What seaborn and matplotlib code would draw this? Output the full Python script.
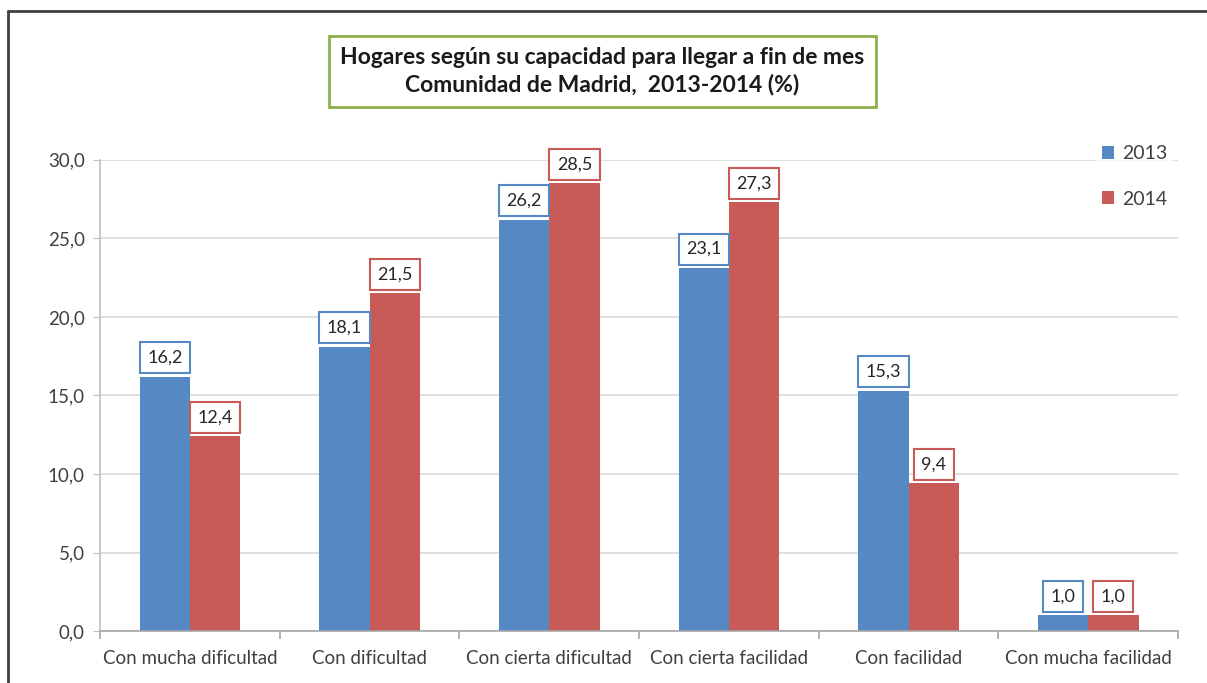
import matplotlib
matplotlib.use("Agg")
import matplotlib.pyplot as plt
from matplotlib.lines import Line2D
from matplotlib.ticker import FuncFormatter, FixedLocator
import seaborn as sns
import pandas as pd

# datos
categorias = ["Con mucha dificultad", "Con dificultad", "Con cierta dificultad",
              "Con cierta facilidad", "Con facilidad", "Con mucha facilidad"]
v2013 = [16.2, 18.1, 26.2, 23.1, 15.3, 1.0]
v2014 = [12.4, 21.5, 28.5, 27.3, 9.4, 1.0]
anios = ["2013", "2014"]
colores = ["#5689C4", "#C85A57"]

df = pd.DataFrame({
    "categoria": categorias * 2,
    "valor": v2013 + v2014,
    "anio": [anios[0]] * len(categorias) + [anios[1]] * len(categorias),
})

sns.set_style("white")
plt.rcParams['font.family'] = ['Lato', 'DejaVu Sans']

fig = plt.figure(figsize=(12.07, 6.83), dpi=100)
ax = fig.add_axes([0.083, 0.076, 0.893, 0.690])

sns.barplot(data=df, x="categoria", y="valor", hue="anio", palette=colores,
            width=0.56, saturation=1, linewidth=0, ax=ax,
            order=categorias, hue_order=anios)

ax.set_ylim(0, 30)
ax.set_xlim(-0.5, len(categorias) - 0.5)
ax.set_xlabel("")
ax.set_ylabel("")
ax.yaxis.set_major_formatter(FuncFormatter(lambda v, p: f"{v:.1f}".replace(".", ",")))
ax.set_yticks([0, 5, 10, 15, 20, 25, 30])
ax.yaxis.grid(True, color="#D9D9D9", linewidth=1.2)
ax.set_axisbelow(True)

for s in ["top", "right"]:
    ax.spines[s].set_visible(False)
ax.spines["left"].set_color("#BFBFBF")
ax.spines["bottom"].set_color("#A6A6A6")
ax.spines["left"].set_linewidth(1.2)
ax.spines["bottom"].set_linewidth(1.2)

ax.tick_params(axis="y", which="major", left=True, length=5, color="#BFBFBF",
               labelsize=13.5, labelcolor="#404040", pad=6)
ax.tick_params(axis="x", which="major", bottom=False, labelsize=13.5,
               labelcolor="#404040", pad=10)
ax.xaxis.set_minor_locator(FixedLocator([i - 0.5 for i in range(len(categorias) + 1)]))
ax.tick_params(axis="x", which="minor", bottom=True, length=6, color="#A6A6A6", width=1.2)

for cont, col in zip(ax.containers, colores):
    etiquetas = [f"{b.get_height():.1f}".replace(".", ",") for b in cont]
    ax.bar_label(cont, labels=etiquetas, padding=8, fontsize=13, color="#262626",
                 bbox=dict(boxstyle="square,pad=0.42", facecolor="white",
                           edgecolor=col, linewidth=1.5))

leg = ax.legend(loc="upper left", bbox_to_anchor=(0.9, 0.81),
                bbox_transform=fig.transFigure, frameon=True, fontsize=14,
                handlelength=0.6, handleheight=0.6, handletextpad=0.45,
                labelspacing=1.45, borderpad=0.3, title=None)
leg.get_frame().set_facecolor("white")
leg.get_frame().set_edgecolor("none")
for t in leg.get_texts():
    t.set_color("#404040")

fig.text(0.499, 0.896, "Hogares según su capacidad para llegar a fin de mes\nComunidad de Madrid,  2013-2014 (%)",
         ha="center", va="center", fontsize=16.5, fontweight="bold", color="#1a1a1a",
         linespacing=1.3,
         bbox=dict(boxstyle="square,pad=0.5", facecolor="white",
                   edgecolor="#8DB04A", linewidth=2))

# marco exterior
fig.add_artist(Line2D([0.0066, 1.0], [0.984, 0.984], transform=fig.transFigure,
                      color="#404040", linewidth=2))
fig.add_artist(Line2D([0.0066, 0.0066], [0.0, 0.984], transform=fig.transFigure,
                      color="#404040", linewidth=2))

fig.savefig("out.png", dpi=100)
